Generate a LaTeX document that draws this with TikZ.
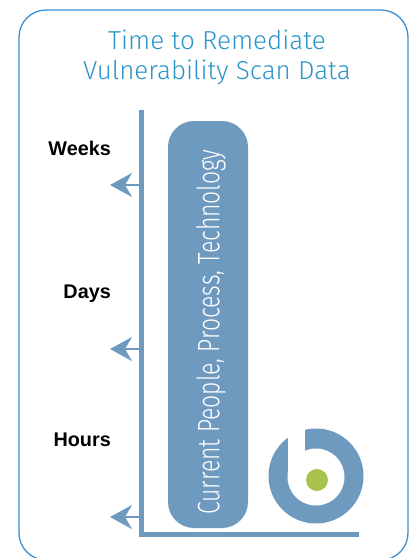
\documentclass[tikz,border=0pt]{standalone}
\usepackage{fontspec}
\setmainfont{Liberation Sans}
\newfontfamily\lightfont{Fira Sans Light}
\usetikzlibrary{arrows.meta}
\definecolor{steel}{HTML}{6E9ABF}
\definecolor{titleblue}{HTML}{2B95C9}
\definecolor{frameblue}{HTML}{3B8ED4}
\definecolor{dotgreen}{HTML}{A8C34A}

\begin{document}
\begin{tikzpicture}[x=1pt,y=-1pt]
\useasboundingbox (0,0) rectangle (413,558);
\draw[frameblue,line width=1.3pt,rounded corners=27pt] (19,10) rectangle (408,560);

\node[titleblue,align=center,inner sep=0pt,font=\lightfont\fontsize{26}{30}\selectfont] (title) at (217,57) {Time to Remediate\\Vulnerability Scan Data};

% axes and bar
\draw[steel,line width=5pt] (141.5,110) -- (141.5,534.5) -- (359,534.5);
\fill[steel,rounded corners=26pt] (168,121) rectangle (248,528);
\node[white,rotate=90,inner sep=0pt] (bartext) at (211,332) {\resizebox{365pt}{23pt}{\lightfont Current People, Process, Technology}};

\foreach \y/\t/\ly/\n in {185/Weeks/148/weeks, 349/Days/294/days, 517/Hours/440/hours} {
  \coordinate (\n-a) at (139,\y);
  \coordinate (\n-b) at (110,\y);
  \draw[steel,line width=2pt,-{Stealth[length=22pt,width=24pt,inset=7pt]}] (\n-a) -- (\n-b);
  \node[anchor=east,inner sep=0pt,font=\bfseries\fontsize{19.8}{20}\selectfont] (\n) at (111,\ly) {\t};
}

% logo
\fill[steel] (316,476) circle (47.5);
\fill[white] (316,477) circle (28.5);
\fill[white] (287.5,420) rectangle (305,477);
\fill[dotgreen] (317,480) circle (11);
\end{tikzpicture}
\end{document}
